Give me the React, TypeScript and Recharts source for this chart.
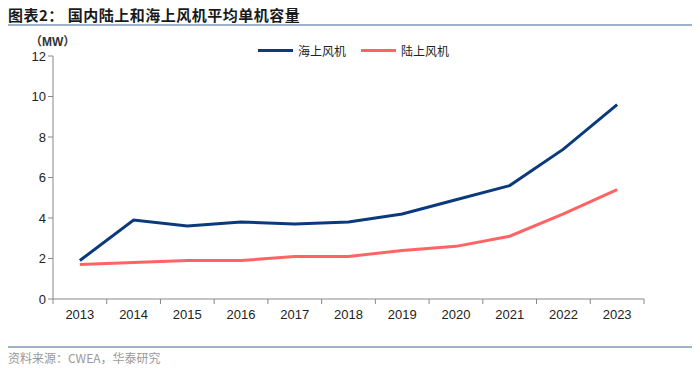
import React from 'react';
import { LineChart, Line, XAxis, YAxis } from 'recharts';

const years = ['2013', '2014', '2015', '2016', '2017', '2018', '2019', '2020', '2021', '2022', '2023'];
const offshore = [1.9, 3.9, 3.6, 3.8, 3.7, 3.8, 4.2, 4.9, 5.6, 7.4, 9.6];
const onshore = [1.7, 1.8, 1.9, 1.9, 2.1, 2.1, 2.4, 2.6, 3.1, 4.2, 5.4];
const yTicks = [0, 2, 4, 6, 8, 10, 12];

const data = years.map((year, i) => ({ year, offshore: offshore[i], onshore: onshore[i] }));

const CHART_W = 700;
const CHART_H = 335;
const MARGIN = { top: 56, right: 56, left: 23, bottom: 6 };
const Y_AXIS_W = 30;
const PLOT_W = CHART_W - MARGIN.left - MARGIN.right - Y_AXIS_W;
const BAND = PLOT_W / years.length;

const FONT = 'Arial, "Liberation Sans", "Noto Sans CJK SC", sans-serif';
const CJK = '"Noto Sans CJK SC", sans-serif';
const BLUE = '#0b3a7c';
const RED = '#ff6464';

// excel-style category axis: tick marks sit between categories
const YearTick = (props: any) => {
  const { x, y, payload, index } = props;
  const last = index === years.length - 1;
  return (
    <g>
      <line x1={x - BAND / 2} x2={x - BAND / 2} y1={y - 8} y2={y - 3} stroke="#888" strokeWidth={1} />
      {last && <line x1={x + BAND / 2} x2={x + BAND / 2} y1={y - 8} y2={y - 3} stroke="#888" strokeWidth={1} />}
      <text x={x} y={y + 12} textAnchor="middle" fontSize={13} fill="#222" fontFamily={FONT}>
        {payload.value}
      </text>
    </g>
  );
};

export default function App() {
  return (
    <div style={{ position: 'absolute', left: 0, top: 0, width: 700, height: 368, background: '#fff', overflow: 'hidden' }}>
      <div style={{ position: 'absolute', left: 8, top: 4, fontFamily: CJK, fontWeight: 700, fontSize: 15, color: '#1a1a1a', letterSpacing: 0.5 }}>
        图表2：&nbsp;国内陆上和海上风机平均单机容量
      </div>
      <div style={{ position: 'absolute', left: 8, top: 24, width: 684, height: 2, background: '#9fb3c8' }} />

      <div style={{ position: 'absolute', left: 30, top: 32, fontFamily: FONT, fontSize: 12, fontWeight: 700, color: '#333' }}>（MW）</div>

      <div style={{ position: 'absolute', left: 258, top: 42, display: 'flex', alignItems: 'center', fontFamily: CJK, fontSize: 12, color: '#222' }}>
        <div style={{ width: 35, height: 3, background: BLUE, marginRight: 5 }} />
        <span style={{ marginRight: 15 }}>海上风机</span>
        <div style={{ width: 35, height: 3, background: RED, marginRight: 5 }} />
        <span>陆上风机</span>
      </div>

      <div style={{ position: 'absolute', left: 0, top: 0 }}>
        <LineChart width={CHART_W} height={CHART_H} data={data} margin={MARGIN}>
          <XAxis
            dataKey="year"
            height={30}
            padding={{ left: BAND / 2, right: BAND / 2 }}
            axisLine={{ stroke: '#888' }}
            tickLine={false}
            tick={<YearTick />}
            interval={0}
          />
          <YAxis
            domain={[0, 12]}
            ticks={yTicks}
            width={Y_AXIS_W}
            axisLine={{ stroke: '#888' }}
            tickLine={{ stroke: '#888' }}
            tickSize={5}
            tick={{ fill: '#222', fontSize: 13, fontFamily: FONT }}
          />
          <Line type="linear" dataKey="offshore" stroke={BLUE} strokeWidth={3} dot={false} isAnimationActive={false} />
          <Line type="linear" dataKey="onshore" stroke={RED} strokeWidth={3} dot={false} isAnimationActive={false} />
        </LineChart>
      </div>

      <div style={{ position: 'absolute', left: 8, top: 346, width: 684, height: 1.5, background: '#9fb3c8' }} />
      <div style={{ position: 'absolute', left: 8, top: 349, fontFamily: CJK, fontSize: 12, color: '#999' }}>
        资料来源：CWEA，华泰研究
      </div>
    </div>
  );
}
